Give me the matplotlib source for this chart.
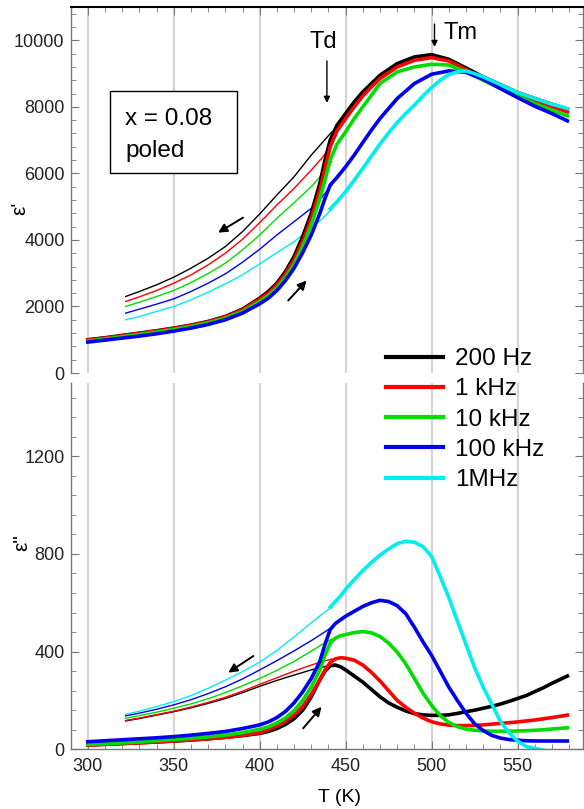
import matplotlib
matplotlib.use("Agg")
import matplotlib.pyplot as plt
from matplotlib.ticker import MultipleLocator
from matplotlib.patches import Rectangle

plt.rcParams['font.family'] = ['Liberation Sans', 'DejaVu Sans']

labels = ['200 Hz', '1 kHz', '10 kHz', '100 kHz', '1MHz']
colors = ['#000000', '#ff0000', '#00dd00', '#0000ee', '#00eeee']

# ---- eps' (top panel) ----
# heating runs (thick), 200 Hz .. 100 kHz
t_heat1 = [300, 310, 320, 330, 340, 350, 360, 370, 380, 390, 400, 405, 410, 415, 420,
           425, 430, 435, 438, 441, 445, 450, 455, 460, 465, 470, 480, 490, 500, 510,
           520, 530, 540, 550, 560, 570, 579]
e1_200hz = [1000, 1060, 1130, 1200, 1270, 1350, 1440, 1550, 1700, 1920, 2250, 2450, 2700, 3050, 3500,
            4100, 4800, 5700, 6400, 7000, 7450, 7800, 8150, 8450, 8700, 8950, 9300, 9500, 9570, 9430,
            9170, 8900, 8670, 8430, 8250, 8080, 7930]
e1_1khz = [990, 1050, 1120, 1190, 1260, 1340, 1430, 1540, 1690, 1900, 2220, 2400, 2650, 2980, 3400,
           3950, 4650, 5500, 6150, 6800, 7280, 7650, 8000, 8330, 8600, 8850, 9200, 9400, 9480, 9380,
           9120, 8850, 8610, 8370, 8180, 8010, 7850]
e1_10khz = [960, 1020, 1090, 1160, 1230, 1310, 1400, 1510, 1650, 1850, 2150, 2330, 2560, 2870, 3270,
            3800, 4450, 5250, 5800, 6400, 6880, 7250, 7650, 8000, 8350, 8700, 9050, 9200, 9280, 9260,
            9050, 8800, 8560, 8320, 8100, 7900, 7730]
e1_100khz = [930, 990, 1050, 1110, 1180, 1260, 1350, 1460, 1600, 1800, 2080, 2250, 2480, 2780, 3150,
             3620, 4150, 4800, 5250, 5650, 5880, 6200, 6550, 6930, 7300, 7650, 8250, 8700, 8980, 9080,
             9040, 8830, 8550, 8280, 8020, 7800, 7580]
# 1 MHz heating run only from 441 K
t_heat1_1mhz = [441, 445, 450, 455, 460, 465, 470, 475, 480, 485, 490, 495, 500, 505, 510,
                515, 520, 525, 530, 540, 550, 560, 570, 579]
e1_1mhz = [4930, 5150, 5450, 5800, 6150, 6520, 6880, 7220, 7530, 7800, 8050, 8330, 8580, 8800, 8970,
           9060, 9080, 9000, 8900, 8670, 8430, 8250, 8080, 7950]

# cooling runs (thin)
t_cool1 = [322, 330, 340, 350, 360, 370, 380, 390, 400, 410, 420, 430, 436, 442]
c1_200hz = [2300, 2450, 2650, 2880, 3150, 3450, 3800, 4250, 4780, 5350, 5900, 6550, 6900, 7250]
c1_1khz = [2150, 2290, 2480, 2700, 2950, 3250, 3600, 4020, 4520, 5050, 5550, 6100, 6450, 6850]
c1_10khz = [2000, 2130, 2300, 2480, 2720, 2990, 3300, 3700, 4150, 4650, 5120, 5600, 5950, 6350]
c1_100khz = [1800, 1920, 2070, 2230, 2450, 2700, 2980, 3330, 3720, 4150, 4550, 4950, 5270, 5650]
c1_1mhz = [1600, 1700, 1850, 2000, 2200, 2430, 2680, 2950, 3280, 3620, 3950, 4350, 4620, 4930]

# ---- eps'' (bottom panel) ----
t_heat2 = [300, 310, 320, 330, 340, 350, 360, 370, 380, 390, 400, 405, 410, 415, 420, 425,
           430, 435, 438, 441, 444, 447, 450, 455, 460, 465, 470, 475, 480, 485, 490, 495,
           500, 505, 510, 515, 520, 525, 530, 535, 540, 545, 550, 555, 560, 565, 570, 579]
e2_200hz = [18, 21, 24, 27, 30, 34, 38, 43, 49, 56, 65, 73, 85, 102, 125, 160,
            215, 285, 320, 342, 345, 338, 325, 300, 275, 245, 215, 190, 172, 157, 146, 141,
            139, 139, 141, 147, 154, 160, 168, 176, 185, 196, 208, 220, 236, 252, 270, 300]
e2_1khz = [17, 20, 23, 26, 30, 34, 38, 43, 49, 57, 68, 80, 95, 115, 140, 175,
           225, 285, 325, 355, 370, 375, 373, 365, 345, 315, 280, 240, 200, 172, 148, 128,
           113, 104, 99, 97, 97, 98, 100, 103, 106, 109, 112, 116, 120, 125, 130, 140]
e2_10khz = [20, 23, 26, 30, 35, 40, 45, 51, 58, 68, 82, 92, 108, 128, 158, 200,
            255, 325, 385, 435, 455, 465, 470, 478, 482, 477, 462, 435, 398, 350, 290, 230,
            180, 138, 110, 93, 83, 78, 75, 74, 74, 74, 75, 76, 78, 80, 83, 88]
e2_100khz = [31, 35, 39, 43, 47, 52, 58, 65, 73, 85, 100, 112, 130, 155, 190, 235,
             290, 360, 430, 490, 515, 530, 545, 565, 585, 600, 610, 605, 588, 555, 500, 440,
             385, 320, 255, 200, 148, 105, 77, 57, 46, 40, 37, 35, 34, 34, 34, 34]
t_heat2_1mhz = [441, 444, 447, 450, 455, 460, 465, 470, 475, 480, 485, 490, 495, 500,
                505, 510, 515, 520, 525, 530, 535, 540, 545, 550, 555, 560, 565, 570]
e2_1mhz = [582, 605, 628, 655, 695, 732, 765, 795, 820, 842, 852, 848, 830, 790,
           708, 622, 525, 430, 335, 255, 185, 115, 68, 33, 12, 3, -3, -10]

t_cool2 = [322, 330, 340, 350, 360, 370, 380, 390, 400, 410, 420, 430, 436, 442]
c2_200hz = [116, 126, 140, 154, 170, 188, 208, 232, 258, 282, 304, 325, 336, 345]
c2_1khz = [118, 128, 142, 156, 173, 192, 213, 238, 266, 293, 320, 345, 358, 370]
c2_10khz = [127, 138, 152, 168, 186, 207, 232, 260, 290, 323, 360, 402, 428, 452]
c2_100khz = [137, 148, 164, 182, 203, 228, 256, 288, 325, 363, 403, 445, 472, 500]
c2_1mhz = [143, 156, 175, 195, 220, 250, 283, 318, 357, 405, 460, 518, 552, 582]

heat1 = [(t_heat1, e1_200hz), (t_heat1, e1_1khz), (t_heat1, e1_10khz),
         (t_heat1, e1_100khz), (t_heat1_1mhz, e1_1mhz)]
cool1 = [c1_200hz, c1_1khz, c1_10khz, c1_100khz, c1_1mhz]
heat2 = [(t_heat2, e2_200hz), (t_heat2, e2_1khz), (t_heat2, e2_10khz),
         (t_heat2, e2_100khz), (t_heat2_1mhz, e2_1mhz)]
cool2 = [c2_200hz, c2_1khz, c2_10khz, c2_100khz, c2_1mhz]

fig = plt.figure(figsize=(5.84, 8.09), dpi=100)
ax1 = fig.add_axes([0.1224, 0.5389, 0.8756, 0.4524])
ax2 = fig.add_axes([0.1224, 0.0738, 0.8756, 0.4528])

grey = '#777777'
handles = []
for i in range(5):
    ax1.plot(t_cool1, cool1[i], color=colors[i], lw=1.0)
    ax2.plot(t_cool2, cool2[i], color=colors[i], lw=1.0)
for i in range(5):
    ax1.plot(heat1[i][0], heat1[i][1], color=colors[i], lw=2.6)
    h, = ax2.plot(heat2[i][0], heat2[i][1], color=colors[i], lw=2.6, label=labels[i])
    handles.append(h)

for ax in (ax1, ax2):
    ax.set_xlim(290.5, 588)
    ax.xaxis.set_major_locator(MultipleLocator(50))
    ax.xaxis.set_minor_locator(MultipleLocator(10))
    ax.grid(axis='x', which='major', color='#cccccc', lw=1.2)
    ax.set_axisbelow(True)
    for s in ax.spines.values():
        s.set_color(grey)
        s.set_linewidth(1.0)
    ax.tick_params(which='both', direction='in', color=grey, labelsize=13,
                   labelcolor='#222222', right=True)
    ax.tick_params(which='major', length=6)
    ax.tick_params(which='minor', length=3.5)

ax1.set_ylim(0, 11000)
ax1.yaxis.set_major_locator(MultipleLocator(2000))
ax1.yaxis.set_minor_locator(MultipleLocator(400))
ax1.spines['bottom'].set_visible(False)
ax1.spines['top'].set_color('black')
ax1.spines['top'].set_linewidth(1.5)
ax1.tick_params(which='both', top=True, bottom=False, labelbottom=False)
ax1.tick_params(axis='y', pad=5)

ax2.set_ylim(0, 1500)
ax2.yaxis.set_major_locator(MultipleLocator(400))
ax2.yaxis.set_minor_locator(MultipleLocator(80))
ax2.spines['top'].set_visible(False)
ax2.tick_params(which='both', top=False, bottom=True)
ax2.tick_params(axis='y', pad=5)
ax2.tick_params(axis='x', pad=6)

# annotations, top panel
ax1.add_patch(Rectangle((0.0753, 0.5464), 0.2483, 0.2241, transform=ax1.transAxes,
                        fc='white', ec='black', lw=1.0, zorder=5))
ax1.text(0.1046, 0.6776, 'x = 0.08', transform=ax1.transAxes, fontsize=17.5,
         va='baseline', zorder=6)
ax1.text(0.1046, 0.5902, 'poled', transform=ax1.transAxes, fontsize=17.5,
         va='baseline', zorder=6)
ax1.text(436.8, 9950, 'Td', fontsize=17, ha='center', va='center')
ax1.text(507.0, 10220, 'Tm', fontsize=17, ha='left', va='center')

thin = dict(arrowstyle='-|>', color='black', lw=1.0, mutation_scale=9, shrinkA=0, shrinkB=0)
bold = dict(arrowstyle='-|>', color='black', lw=1.4, mutation_scale=13, shrinkA=0, shrinkB=0)
ax1.annotate('', xy=(439.1, 8120), xytext=(439.1, 9380), arrowprops=thin)
ax1.annotate('', xy=(501.7, 9800), xytext=(501.7, 10490), arrowprops=thin, annotation_clip=False)
ax1.annotate('', xy=(375.8, 4220), xytext=(390.3, 4670), arrowprops=bold)
ax1.annotate('', xy=(427.3, 2780), xytext=(416.6, 2180), arrowprops=bold)
ax2.annotate('', xy=(381.7, 314), xytext=(396.3, 382), arrowprops=bold)
ax2.annotate('', xy=(436.0, 174), xytext=(425.3, 86), arrowprops=bold)

ax2.legend(handles=handles, loc='upper left', bbox_to_anchor=(386 / 584, 1 - 348 / 809),
           bbox_transform=fig.transFigure, frameon=False, fontsize=17.5,
           handlelength=2.35, handletextpad=0.5, labelspacing=0.34,
           borderpad=0, borderaxespad=0)
for line in ax2.get_legend().get_lines():
    line.set_linewidth(3.0)

fig.text(20 / 584, 1 - 208 / 809, "ε'", rotation=90, fontsize=15, ha='center', va='center')
fig.text(22 / 584, 1 - 543 / 809, 'ε"', rotation=90, fontsize=15, ha='center', va='center')
fig.text(340 / 584, 1 - 797 / 809, 'T (K)', fontsize=14, ha='center', va='center')

fig.savefig('out.png', dpi=100)
